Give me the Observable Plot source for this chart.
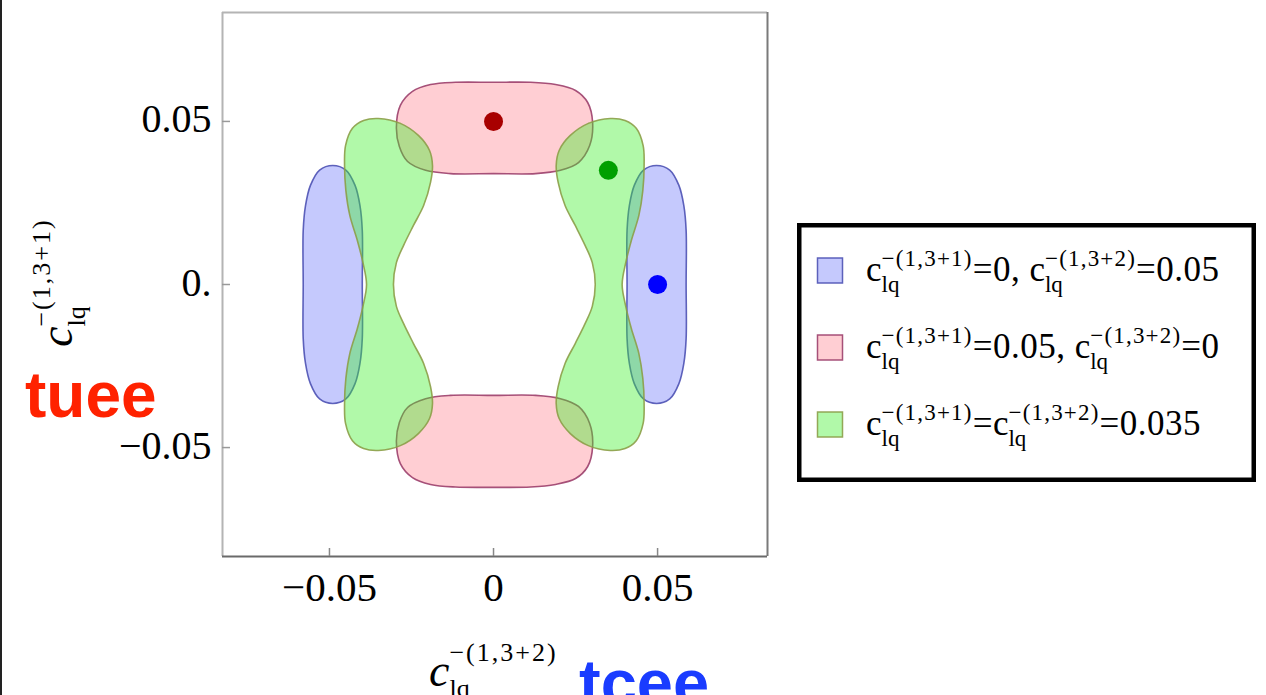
<!DOCTYPE html>
<html>
<head>
<meta charset="utf-8">
<script src="https://cdn.jsdelivr.net/npm/d3@7"></script>
<script src="https://cdn.jsdelivr.net/npm/@observablehq/plot@0.6"></script>
<style>
  html, body { margin: 0; padding: 0; background: #fff; }
  #wrap { position: relative; width: 1266px; height: 695px; overflow: hidden; background: #fff; }
  #edge { position: absolute; left: 0; top: 0; width: 2px; height: 695px; background: #222; z-index: 2; }
</style>
</head>
<body>
<div id="wrap"><div id="edge"></div></div>
<script>
// Axis settings
const xDomain = [-0.0826, 0.0835];
const yDomain = [-0.0834, 0.0834];
const xTicks = [-0.05, 0, 0.05];
const xTickLabels = ["\u22120.05", "0", "0.05"];
const yTicks = [0.05, 0, -0.05];
const yTickLabels = ["0.05", "0.", "\u22120.05"];

// Benchmark points (c13+2, c13+1)
const pointX = [0.05, 0, 0.035];
const pointY = [0, 0.05, 0.035];
const pointColors = ["#0000ff", "#a80000", "#00a000"];

// Allowed regions, boundary points [c13+2, c13+1]
const blueLeft = [
  [-0.049, 0.0365], [-0.045, 0.0351], [-0.0422, 0.0304], [-0.0407, 0.0242], [-0.040, 0.0166],
  [-0.040, 0], [-0.040, -0.0166], [-0.0407, -0.0242], [-0.0422, -0.0304], [-0.045, -0.0351],
  [-0.049, -0.0365], [-0.053, -0.0351], [-0.0558, -0.0304], [-0.0573, -0.0242], [-0.058, -0.0166],
  [-0.058, 0], [-0.058, 0.0166], [-0.0573, 0.0242], [-0.0558, 0.0304], [-0.053, 0.0351]
];
const blueRight = [
  [0.0497, 0.0365], [0.0537, 0.0351], [0.0565, 0.0304], [0.058, 0.0242], [0.0587, 0.0166],
  [0.0587, 0], [0.0587, -0.0166], [0.058, -0.0242], [0.0565, -0.0304], [0.0537, -0.0351],
  [0.0497, -0.0365], [0.0457, -0.0351], [0.0429, -0.0304], [0.0414, -0.0242], [0.0407, -0.0166],
  [0.0407, 0], [0.0407, 0.0166], [0.0414, 0.0242], [0.0429, 0.0304], [0.0457, 0.0351]
];
const redTop = [
  [-0.0296, 0.0482], [-0.0284, 0.0549], [-0.0247, 0.0592], [-0.0192, 0.0613], [-0.0116, 0.0620],
  [0, 0.0620], [0.0113, 0.0620], [0.0189, 0.0613], [0.0250, 0.0595], [0.0287, 0.0558],
  [0.0302, 0.0497], [0.0293, 0.0426], [0.0259, 0.0374], [0.0204, 0.0350], [0.0128, 0.0340],
  [0, 0.0340], [-0.0131, 0.0340], [-0.0207, 0.0350], [-0.0262, 0.0377], [-0.0287, 0.0423]
];
const redBottom = [
  [-0.0296, -0.0482], [-0.0284, -0.0549], [-0.0247, -0.0592], [-0.0192, -0.0613], [-0.0116, -0.0621],
  [0, -0.0622], [0.0113, -0.0621], [0.0189, -0.0613], [0.0250, -0.0595], [0.0287, -0.0558],
  [0.0302, -0.0497], [0.0293, -0.0426], [0.0259, -0.0374], [0.0204, -0.0350], [0.0128, -0.0340],
  [0, -0.0340], [-0.0131, -0.0340], [-0.0207, -0.0350], [-0.0262, -0.0377], [-0.0287, -0.0423]
];
const greenLeft = [
  [-0.0351, 0.0509], [-0.0284, 0.0494], [-0.0229, 0.0457], [-0.0195, 0.0411], [-0.0186, 0.0365],
  [-0.0192, 0.0313], [-0.0213, 0.0242], [-0.0244, 0.0181], [-0.0274, 0.0120], [-0.0296, 0.0067],
  [-0.0305, 0], [-0.0296, -0.0067], [-0.0274, -0.0120], [-0.0244, -0.0181], [-0.0213, -0.0242],
  [-0.0192, -0.0313], [-0.0186, -0.0365], [-0.0195, -0.0411], [-0.0229, -0.0457], [-0.0284, -0.0494],
  [-0.0351, -0.0509], [-0.0396, -0.0503], [-0.0430, -0.0479], [-0.0451, -0.0426], [-0.0454, -0.0365],
  [-0.0450, -0.0288], [-0.0438, -0.0212], [-0.0415, -0.0135], [-0.0398, -0.0067], [-0.0387, 0],
  [-0.0398, 0.0067], [-0.0415, 0.0135], [-0.0438, 0.0212], [-0.0450, 0.0288], [-0.0454, 0.0365],
  [-0.0451, 0.0426], [-0.0430, 0.0479], [-0.0396, 0.0503]
];
const greenRight = [
  [0.0356, 0.0509], [0.0289, 0.0494], [0.0234, 0.0457], [0.0200, 0.0411], [0.0191, 0.0365],
  [0.0197, 0.0313], [0.0218, 0.0242], [0.0249, 0.0181], [0.0279, 0.0120], [0.0301, 0.0067],
  [0.0310, 0], [0.0301, -0.0067], [0.0279, -0.0120], [0.0249, -0.0181], [0.0218, -0.0242],
  [0.0197, -0.0313], [0.0191, -0.0365], [0.0200, -0.0411], [0.0234, -0.0457], [0.0289, -0.0494],
  [0.0356, -0.0509], [0.0401, -0.0503], [0.0435, -0.0479], [0.0456, -0.0426], [0.0459, -0.0365],
  [0.0455, -0.0288], [0.0443, -0.0212], [0.0420, -0.0135], [0.0403, -0.0067], [0.0392, 0],
  [0.0403, 0.0067], [0.0420, 0.0135], [0.0443, 0.0212], [0.0455, 0.0288], [0.0459, 0.0365],
  [0.0456, 0.0426], [0.0435, 0.0479], [0.0401, 0.0503]
];

// Legend entries: each is a sequence of plain strings and c_lq^(...) symbols
const legendRows = [
  [{base: "c", sub: "lq", sup: "\u2212(1,3+1)"}, "=0, ", {base: "c", sub: "lq", sup: "\u2212(1,3+2)"}, "=0.05"],
  [{base: "c", sub: "lq", sup: "\u2212(1,3+1)"}, "=0.05, ", {base: "c", sub: "lq", sup: "\u2212(1,3+2)"}, "=0"],
  [{base: "c", sub: "lq", sup: "\u2212(1,3+1)"}, "=", {base: "c", sub: "lq", sup: "\u2212(1,3+2)"}, "=0.035"]
];
const xLabel = [{base: "c", sub: "lq", sup: "\u2212(1,3+2)"}];
const yLabel = [{base: "c", sub: "lq", sup: "\u2212(1,3+1)"}];

const styles = {
  blue:  {fill: "rgb(90,100,250)", fillOpacity: 0.35, stroke: "#4e52b4"},
  red:   {fill: "rgb(255,60,80)",  fillOpacity: 0.25, stroke: "#9c3f6c"},
  green: {fill: "rgb(60,240,40)",  fillOpacity: 0.40, stroke: "#8c9e48"}
};
const legendStyles = [styles.blue, styles.red, styles.green];

const serif = "'Liberation Serif', 'Times New Roman', Times, serif";

const region = (data, s) => Plot.line(data, {
  x: d => d[0], y: d => d[1], curve: "catmull-rom-closed",
  fill: s.fill, fillOpacity: s.fillOpacity, stroke: s.stroke, strokeWidth: 1.6, strokeOpacity: 0.9
});

const chart = Plot.plot({
  width: 1266, height: 695,
  marginLeft: 222, marginRight: 499, marginTop: 12, marginBottom: 139,
  x: {domain: xDomain, axis: null},
  y: {domain: yDomain, axis: null},
  color: {type: "identity"},
  style: {fontFamily: serif, background: "transparent", overflow: "visible", color: "#000"},
  marks: [
    region(blueLeft, styles.blue),
    region(blueRight, styles.blue),
    region(redTop, styles.red),
    region(redBottom, styles.red),
    region(greenLeft, styles.green),
    region(greenRight, styles.green),
    Plot.dot(pointX, {x: d => d, y: (d, i) => pointY[i], r: 9.5, fill: (d, i) => pointColors[i], stroke: "none"}),
    // frame
    Plot.ruleX([xDomain[0]], {stroke: "#b4b4b4", strokeWidth: 2}),
    Plot.ruleY([yDomain[1]], {stroke: "#b4b4b4", strokeWidth: 2}),
    Plot.ruleX([xDomain[1]], {stroke: "#7a7a7a", strokeWidth: 2}),
    Plot.ruleY([yDomain[0]], {stroke: "#6a6a6a", strokeWidth: 2}),
    // inward ticks
    Plot.tickX(xTicks, {x: d => d, stroke: "#888", strokeWidth: 1.5, insetTop: 536}),
    Plot.tickY(yTicks, {y: d => d, stroke: "#999", strokeWidth: 1.5, insetRight: 537}),
    // tick labels
    Plot.text(xTicks, {x: d => d, text: (d, i) => xTickLabels[i], frameAnchor: "bottom",
      lineAnchor: "bottom", dy: 44, fontSize: 41, fill: "#000"}),
    Plot.text(yTicks, {y: d => d, text: (d, i) => yTickLabels[i], frameAnchor: "left",
      textAnchor: "end", lineAnchor: "bottom", dx: -11, dy: 11, fontSize: 40, fill: "#000"})
  ]
});
chart.style.position = "absolute";
chart.style.left = "0px";
chart.style.top = "0px";
document.getElementById("wrap").appendChild(chart);

const svg = d3.select(chart);

// Lays out a run of text with c_lq^(...) symbols, returns the end x
function drawMath(g, x0, y0, parts, o) {
  let x = x0;
  const put = (str, xx, yy, size, italic, ls) => {
    const t = g.append("text")
      .attr("x", xx).attr("y", yy)
      .attr("text-anchor", "start")
      .attr("font-family", serif).attr("font-size", size)
      .attr("font-style", italic ? "italic" : "normal")
      .attr("letter-spacing", ls || 0)
      .attr("fill", "#000")
      .style("white-space", "pre")
      .text(str);
    return t.node().getComputedTextLength();
  };
  for (const p of parts) {
    if (typeof p === "string") {
      x += put(p, x, y0, o.size, false, o.mainSpacing);
    } else {
      x += put(p.base, x, y0, o.size, o.italic, 0);
      const w1 = put(p.sub, x + (o.subDx || 0), y0 + o.subDy, o.script, false, 0);
      const w2 = put(p.sup, x + (o.supDx || 0), y0 + o.supDy, o.script, false, o.supSpacing);
      x += Math.max(w1, w2) + (o.after || 0);
    }
  }
  return x;
}

// Axis titles
drawMath(svg.append("g"), 429, 686, xLabel,
  {size: 46, script: 26, italic: true, subDy: 11, supDy: -25, supSpacing: 2});
drawMath(svg.append("g").attr("transform", "translate(72,347) rotate(-90)"), 0, 0, yLabel,
  {size: 46, script: 26, italic: true, subDy: 13, supDy: -22, supSpacing: 2});

// Coloured tags
svg.append("text").attr("x", 25).attr("y", 417).attr("text-anchor", "start")
  .attr("font-family", "'Liberation Sans', Arial, Helvetica, sans-serif")
  .attr("font-weight", "bold").attr("font-size", 64).attr("fill", "#ff2200").text("tuee");
svg.append("text").attr("x", 579).attr("y", 705).attr("text-anchor", "start")
  .attr("font-family", "'Liberation Sans', Arial, Helvetica, sans-serif")
  .attr("font-weight", "bold").attr("font-size", 65).attr("fill", "#1a3cff").text("tcee");

// Legend
const lg = svg.append("g");
lg.append("rect").attr("x", 799.25).attr("y", 225.25).attr("width", 454.5).attr("height", 254.5)
  .attr("fill", "#fff").attr("stroke", "#000").attr("stroke-width", 4.5);
const rowBase = [281, 358, 435];
legendRows.forEach((row, i) => {
  const s = legendStyles[i];
  lg.append("rect").attr("x", 817.5).attr("y", rowBase[i] - 23).attr("width", 25).attr("height", 25)
    .attr("fill", s.fill).attr("fill-opacity", s.fillOpacity)
    .attr("stroke", s.stroke).attr("stroke-width", 1.5).attr("stroke-opacity", 0.9);
  drawMath(lg, 866, rowBase[i], row,
    {size: 35, script: 23, italic: false, subDy: 11, supDy: -15, supSpacing: 1.2, mainSpacing: 0.5});
});
</script>
</body>
</html>
